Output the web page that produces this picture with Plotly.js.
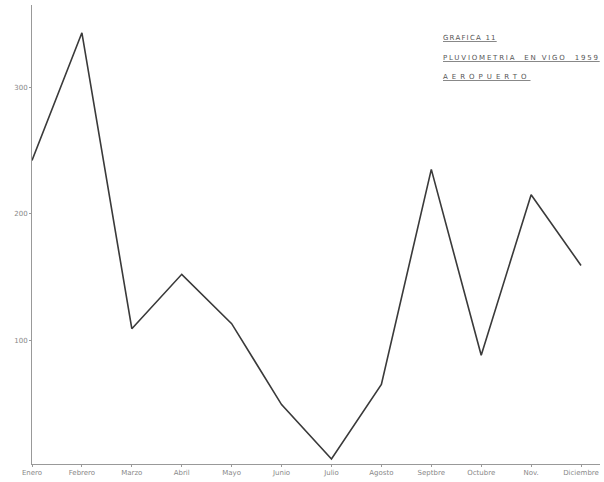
<!DOCTYPE html>
<html>
<head>
<meta charset="utf-8">
<script src="https://cdn.plot.ly/plotly-3.0.1.min.js"></script>
<style>html,body{margin:0;padding:0;background:#fff;}#chart{width:604px;height:482px;}</style>
</head>
<body>
<div id="chart"></div>
<script>
var months = ["Enero","Febrero","Marzo","Abril","Mayo","Junio","Julio","Agosto","Septbre","Octubre","Nov.","Diciembre"];
var rainfall = [242, 343, 109, 152, 113, 49, 6, 65, 235, 88, 215, 159];
var yTicks = [100, 200, 300];
var titleLines = ["GRAFICA 11", "PLUVIOMETRIA  EN VIGO  1959", "AEROPUERTO"];
var spacing = [1.2, 1.8, 4];

var trace = {
  x: months, y: rainfall, type: "scatter", mode: "lines",
  line: {color: "#3a3a3a", width: 1.6}, hoverinfo: "skip"
};
var layout = {
  width: 604, height: 482,
  margin: {l: 32, r: 4, t: 5, b: 18},
  paper_bgcolor: "#fff", plot_bgcolor: "#fff",
  showlegend: false,
  font: {family: "DejaVu Sans", color: "#777"},
  xaxis: {
    type: "category", range: [0, 11.38],
    showgrid: false, zeroline: false,
    showline: true, linecolor: "#999", linewidth: 1,
    ticks: "outside", ticklen: 2, tickcolor: "#999",
    tickfont: {size: 7, color: "#888", family: "DejaVu Sans"}
  },
  yaxis: {
    range: [2, 365], tickvals: yTicks,
    showgrid: false, zeroline: false,
    showline: true, linecolor: "#999", linewidth: 1,
    ticks: "outside", ticklen: 2, tickcolor: "#999",
    tickfont: {size: 7, color: "#888", family: "DejaVu Sans"}
  },
  annotations: titleLines.map(function(t, i){
    return {
      xref: "paper", yref: "paper", x: 0.720, y: [0.929, 0.885, 0.843][i],
      xanchor: "left", yanchor: "middle", showarrow: false,
      text: '<span style="text-decoration:underline;letter-spacing:' + spacing[i] + 'px">' + t + '</span>',
      font: {size: 7, color: "#555", family: "DejaVu Sans"}
    };
  })
};
Plotly.newPlot("chart", [trace], layout, {displayModeBar: false, staticPlot: true});
</script>
</body>
</html>
